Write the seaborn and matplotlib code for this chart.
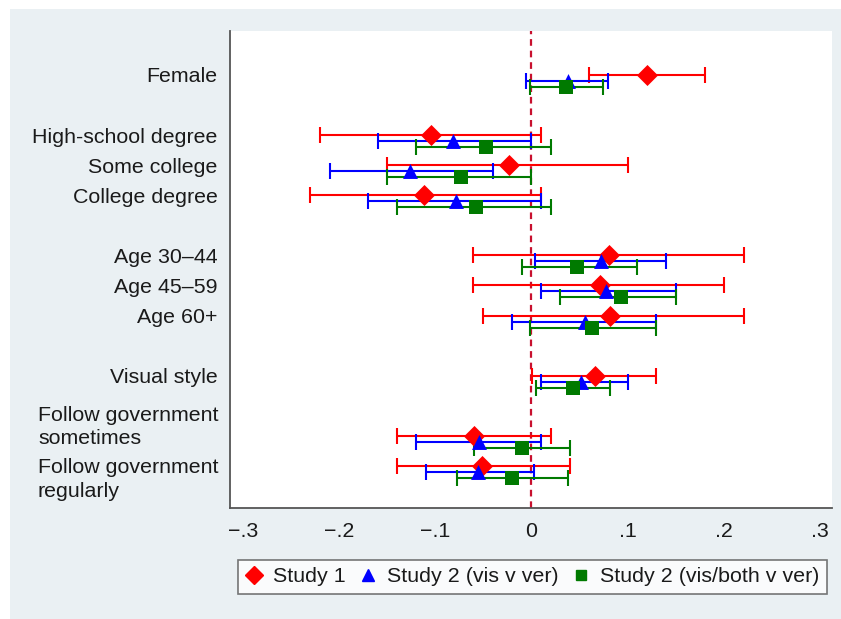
import matplotlib
matplotlib.use('Agg')
import matplotlib.pyplot as plt
import matplotlib.transforms as mtrans
from matplotlib.lines import Line2D
from matplotlib.patches import Rectangle
import pandas as pd
import seaborn as sns

# covariates, top to bottom
categories = ['Female', 'High-school degree', 'Some college', 'College degree',
              'Age 30\u201344', 'Age 45\u201359', 'Age 60+', 'Visual style',
              'Follow government\nsometimes', 'Follow government\nregularly']
positions = [0, 2, 3, 4, 6, 7, 8, 10, 12, 13]

studies = ['Study 1', 'Study 2 (vis v ver)', 'Study 2 (vis/both v ver)']

s1_est = [0.120, -0.104, -0.023, -0.112, 0.081, 0.071, 0.082, 0.066, -0.060, -0.051]
s1_lo = [0.060, -0.220, -0.150, -0.230, -0.061, -0.061, -0.050, 0.001, -0.140, -0.140]
s1_hi = [0.180, 0.010, 0.100, 0.010, 0.221, 0.200, 0.221, 0.130, 0.020, 0.040]

s2_est = [0.038, -0.082, -0.126, -0.078, 0.072, 0.078, 0.056, 0.051, -0.055, -0.056]
s2_lo = [-0.006, -0.160, -0.210, -0.170, 0.004, 0.010, -0.020, 0.010, -0.120, -0.110]
s2_hi = [0.080, 0.000, -0.040, 0.010, 0.140, 0.150, 0.130, 0.100, 0.010, 0.003]

s3_est = [0.036, -0.047, -0.073, -0.058, 0.047, 0.093, 0.063, 0.043, -0.010, -0.020]
s3_lo = [-0.002, -0.120, -0.150, -0.140, -0.010, 0.030, -0.002, 0.005, -0.060, -0.077]
s3_hi = [0.074, 0.020, 0.000, 0.020, 0.110, 0.150, 0.130, 0.082, 0.040, 0.038]

xticks = [-0.3, -0.2, -0.1, 0, 0.1, 0.2, 0.3]
xticklabels = ['\u2212.3', '\u2212.2', '\u2212.1', '0', '.1', '.2', '.3']

colors = ['#ff0000', '#0000ff', '#007a00']
markers = ['D', '^', 's']
msizes = [115, 115, 95]
offsets = [0.0, 0.2, 0.4]

frames = []
for name, est, lo, hi, off in zip(studies, [s1_est, s2_est, s3_est], [s1_lo, s2_lo, s3_lo],
                                  [s1_hi, s2_hi, s3_hi], offsets):
    frames.append(pd.DataFrame({'study': name, 'est': est, 'lo': lo, 'hi': hi,
                                'ypos': [p + off for p in positions]}))
df = pd.concat(frames, ignore_index=True)

sns.set_style('white')
plt.rcParams['font.family'] = ['Liberation Sans', 'DejaVu Sans']
fs = 15.4
txtcol = '#1a1a1a'

fig = plt.figure(figsize=(8.41, 6.19), dpi=100)
fig.patch.set_facecolor('white')
fig.add_artist(Rectangle((10 / 841, 0), 1, 1 - 9 / 619, transform=fig.transFigure,
                         facecolor='#eaf0f3', edgecolor='none', zorder=0))

ax = fig.add_axes([230 / 841, 1 - 508 / 619, 602 / 841, 477 / 619])
ax.set_facecolor('white')

ax.axvline(0, color='#c8102e', lw=1.6, ls=(0, (3, 2.2)), zorder=1)

for i, name in enumerate(studies):
    d = df[df['study'] == name]
    ax.errorbar(d['est'], d['ypos'], xerr=[d['est'] - d['lo'], d['hi'] - d['est']],
                fmt='none', ecolor=colors[i], elinewidth=1.5, capsize=5.5, capthick=1.5, zorder=2)
    sns.scatterplot(data=d, x='est', y='ypos', color=colors[i], marker=markers[i],
                    s=msizes[i], linewidth=0, ax=ax, legend=False, zorder=3)

ax.set_xlim(-0.3135, 0.3125)
ax.set_ylim(14.4, -1.46)
ax.set_xticks(xticks)
ax.set_xticklabels(xticklabels)
ax.set_yticks(positions)
ax.set_yticklabels([c if '\n' not in c else '' for c in categories])
ax.set_xlabel('')
ax.set_ylabel('')
ax.tick_params(axis='both', labelsize=fs, color='#555555', length=6, width=1.2,
               labelcolor=txtcol)
ax.tick_params(axis='y', pad=3)
ax.tick_params(axis='x', pad=4)
for s in ['top', 'right']:
    ax.spines[s].set_visible(False)
for s in ['left', 'bottom']:
    ax.spines[s].set_color('#555555')
    ax.spines[s].set_linewidth(1.3)

# wrapped labels, left aligned as in the original
tr = mtrans.blended_transform_factory(ax.transAxes, ax.transData)
ax.text(-0.319, positions[8] - 0.3, categories[8], transform=tr, ha='left', va='center',
        fontsize=fs, color=txtcol, linespacing=1.3)
ax.text(-0.319, positions[9] + 0.45, categories[9], transform=tr, ha='left', va='center',
        fontsize=fs, color=txtcol, linespacing=1.3)

handles = [Line2D([], [], ls='none', marker=m, color=c, markersize=ms)
           for m, c, ms in zip(markers, colors, [9, 9, 7])]
leg = fig.legend(handles, studies, loc='center', ncol=3, mode='expand',
                 bbox_to_anchor=(238 / 841, 1 - 597 / 619, 589 / 841, 40 / 619),
                 borderaxespad=0, fontsize=fs, frameon=True, fancybox=False,
                 handlelength=0.8, handletextpad=0.5, borderpad=0.35)
leg.get_frame().set_edgecolor('#555555')
leg.get_frame().set_linewidth(1.2)
for t in leg.get_texts():
    t.set_color(txtcol)

fig.savefig('out.png', dpi=100, facecolor=fig.get_facecolor())
